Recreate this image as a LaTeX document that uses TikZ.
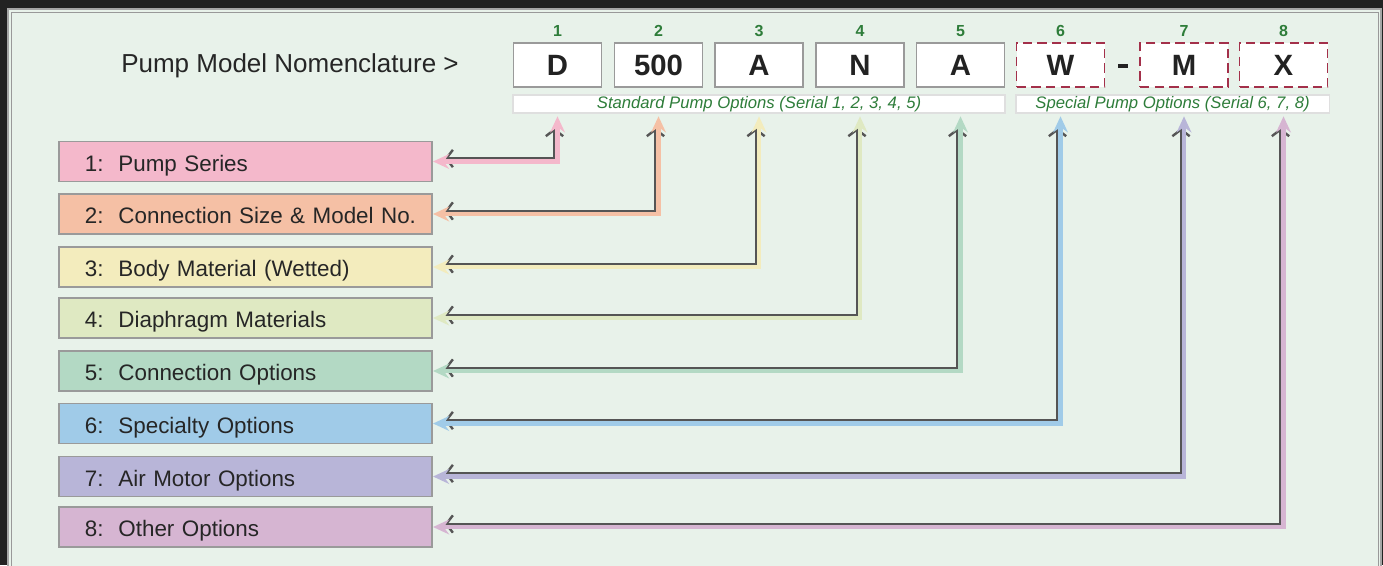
\documentclass[tikz,border=0pt]{standalone}
\usepackage{fontspec}
\setmainfont{Liberation Sans}
\usetikzlibrary{arrows.meta,positioning}

\definecolor{darkbg}{HTML}{222222}
\definecolor{panelbg}{HTML}{E8F2EA}
\definecolor{boxgray}{HTML}{9A9A9A}
\definecolor{dashred}{HTML}{A3304A}
\definecolor{numgreen}{HTML}{2E7D3A}
\definecolor{labtext}{HTML}{262626}
\definecolor{shadowgray}{HTML}{555555}
\definecolor{colA}{HTML}{F4B8CB}
\definecolor{colB}{HTML}{F5C0A5}
\definecolor{colC}{HTML}{F3ECBD}
\definecolor{colD}{HTML}{DFE9C2}
\definecolor{colE}{HTML}{B3D9C4}
\definecolor{colF}{HTML}{A0CBE8}
\definecolor{colG}{HTML}{B8B5D8}
\definecolor{colH}{HTML}{D6B5D2}

\begin{document}
\begin{tikzpicture}[x=0.75pt, y=-0.75pt,
    codebox/.style={draw=boxgray, fill=white, line width=1.3pt, minimum width=66pt, minimum height=33.5pt,
        inner sep=0pt, font=\fontsize{22}{24}\selectfont\bfseries, text=darkbg},
    specbox/.style={codebox, draw=dashred, dash pattern=on 7pt off 4pt},
    numlabel/.style={font=\fontsize{12}{14}\selectfont\bfseries, text=numgreen, inner sep=0pt},
    optbar/.style={draw=gray!25, fill=white, line width=1pt, minimum height=13.5pt, inner sep=0pt,
        font=\fontsize{12.5}{13}\selectfont\itshape, text=numgreen},
    optbox/.style={draw=boxgray, line width=1.3pt, fill=#1, text width=275pt, inner xsep=2.5pt,
        inner ysep=0pt, minimum height=30pt, text height=16pt, text depth=1.6pt, align=left,
        font=\fontsize{16.8}{18}\selectfont, text=labtext,
        execute at begin node={\hspace*{17pt}}},
    shadowline/.style={draw=shadowgray, line width=1.8pt, shorten <=11pt, shorten >=13pt,
        {Straight Barb[length=5pt,width=13pt]}-{Straight Barb[length=5pt,width=13pt]},
        transform canvas={shift={(-3,-3)}}},
    colline/.style={draw=#1, line width=3.4pt, shorten >=2pt,
        {Stealth[length=12pt,width=11pt,inset=4pt]}-{Stealth[length=12pt,width=11pt,inset=4pt]}}
]
    \useasboundingbox (0,0) rectangle (1383,565);

    % Frame
    \fill[darkbg] (0,0) rectangle (1383,565);
    \draw[fill=panelbg, draw=gray!70, line width=1pt] (8,9) rectangle (1381,580);
    \draw[gray!80, line width=0.6pt] (11,12) rectangle (1378,580);

    % Header
    \node[font=\fontsize{19.5}{22}\selectfont, text=labtext] (title) at (290,66) {Pump Model Nomenclature >};

    % Model code
    \node[codebox] (c1) at (557.5,65) {D};
    \node[codebox] (c2) at (658.5,65) {500};
    \node[codebox] (c3) at (759,65) {A};
    \node[codebox] (c4) at (860,65) {N};
    \node[codebox] (c5) at (960.5,65) {A};
    \node[specbox] (c6) at (1060.5,65) {W};
    \node[fill=darkbg, minimum width=8pt, minimum height=3.5pt, inner sep=0pt] (dash) at (1123,66) {};
    \node[specbox] (c7) at (1184,65) {M};
    \node[specbox] (c8) at (1283.5,65) {X};

    \foreach \i in {1,...,8}
        \node[numlabel, above=4pt of c\i] (n\i) {\i};

    \node[optbar, minimum width=369pt] (std) at (759,104) {Standard Pump Options (Serial 1, 2, 3, 4, 5)};
    \node[optbar, minimum width=235pt] (spc) at (1172.5,104) {Special Pump Options (Serial 6, 7, 8)};

    % Option list
    \node[optbox=colA] (lab1) at (245.5,161.5) {1:\ \ Pump Series};
    \node[optbox=colB] (lab2) at (245.5,214) {2:\ \ Connection Size \& Model No.};
    \node[optbox=colC] (lab3) at (245.5,267) {3:\ \ Body Material (Wetted)};
    \node[optbox=colD] (lab4) at (245.5,318) {4:\ \ Diaphragm Materials};
    \node[optbox=colE] (lab5) at (245.5,371) {5:\ \ Connection Options};
    \node[optbox=colF] (lab6) at (245.5,423.5) {6:\ \ Specialty Options};
    \node[optbox=colG] (lab7) at (245.5,476.5) {7:\ \ Air Motor Options};
    \node[optbox=colH] (lab8) at (245.5,527) {8:\ \ Other Options};

    % Connectors
    \foreach \i/\col in {1/colA,2/colB,3/colC,4/colD,5/colE,6/colF,7/colG,8/colH} {
        \draw[shadowline] (lab\i.east) -| (c\i |- std.south);
        \draw[colline=\col] (lab\i.east) -| (c\i |- std.south);
    }
\end{tikzpicture}
\end{document}
